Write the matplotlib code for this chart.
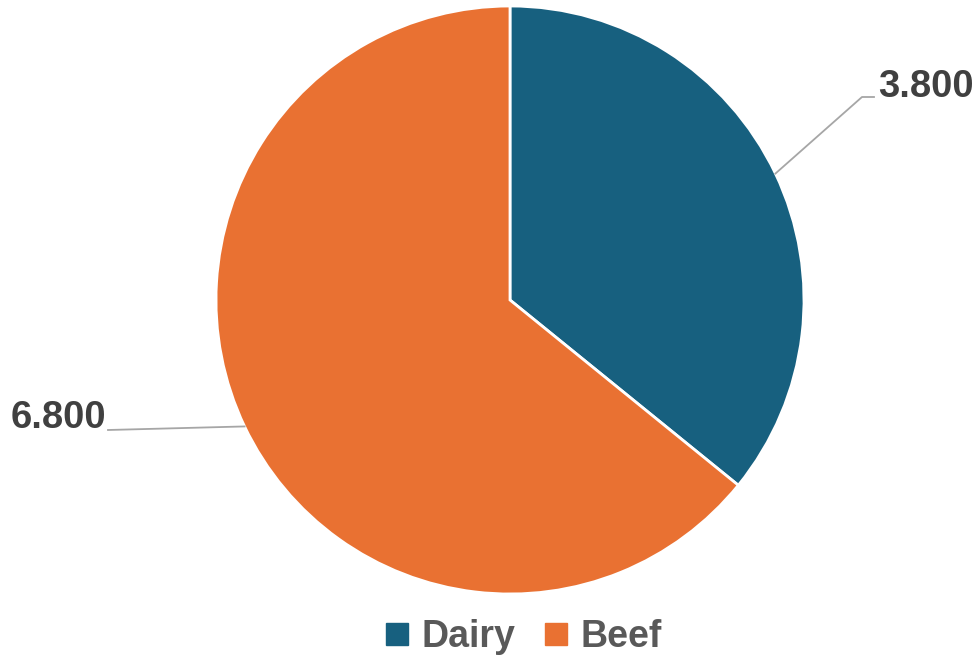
import numpy as np
import matplotlib
matplotlib.use("Agg")
import matplotlib.pyplot as plt
from matplotlib.lines import Line2D

categories = ["Dairy", "Beef"]
values = [3.8, 6.8]
value_labels = ["3.800", "6.800"]
colors = ["#17607f", "#e97132"]

W, H = 976, 659
fig = plt.figure(figsize=(W / 100, H / 100), dpi=100)
ax = fig.add_axes([0, 0, 1, 1])
ax.set_xlim(0, W)
ax.set_ylim(0, H)
ax.set_aspect("equal")
ax.axis("off")

cx, cy, r = 510, H - 300, 294
wedges, _ = ax.pie(values, colors=colors, startangle=90, counterclock=False,
                   center=(cx, cy), radius=r, frame=True,
                   wedgeprops=dict(edgecolor="white", linewidth=2))
ax.set_xlim(0, W)
ax.set_ylim(0, H)
ax.axis("off")

font = ["Liberation Sans", "DejaVu Sans"]
label_color = "#404040"
line_color = "#a6a6a6"

for i, w in enumerate(wedges):
    mid = np.deg2rad((w.theta1 + w.theta2) / 2)
    px, py = cx + r * np.cos(mid), cy + r * np.sin(mid)
    if i == 0:
        ex, ey = 862, H - 97
        ax.plot([px, ex, 874], [py, ey, ey], color=line_color, lw=1.3)
        ax.text(878, H - 87, value_labels[i], ha="left", va="center",
                fontsize=27.5, fontweight="bold", color=label_color, family=font)
    else:
        ax.plot([px, 108], [py, H - 430], color=line_color, lw=1.3)
        ax.text(106, H - 418, value_labels[i], ha="right", va="center",
                fontsize=27.5, fontweight="bold", color=label_color, family=font)

handles = [Line2D([], [], marker="s", linestyle="none", markersize=15.5,
                  markerfacecolor=c, markeredgecolor=c) for c in colors]
leg = fig.legend(handles, categories, loc="center", bbox_to_anchor=(520 / W, (H - 637) / H),
                 ncol=2, frameon=False, handletextpad=0.15, columnspacing=0.6,
                 handlelength=1.0, prop=dict(family=font, size=27, weight="bold"))
for t in leg.get_texts():
    t.set_color("#595959")

fig.savefig("out.png", dpi=100, facecolor="white")
